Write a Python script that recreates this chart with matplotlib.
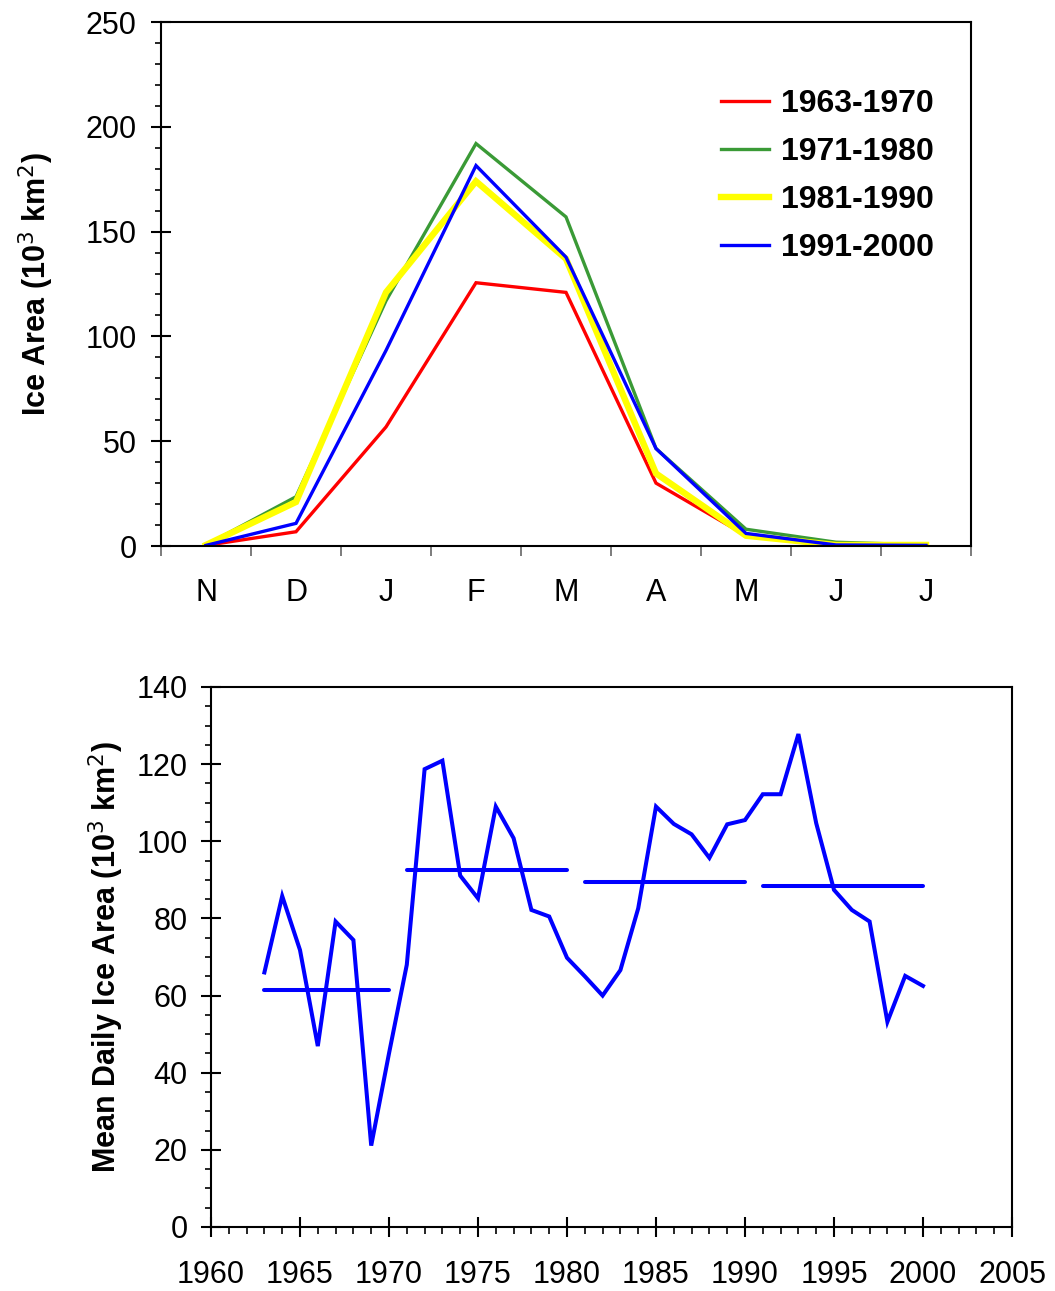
import matplotlib
matplotlib.use("Agg")
import matplotlib.pyplot as plt
from matplotlib.ticker import MultipleLocator, FixedLocator

plt.rcParams['font.family'] = ['Liberation Sans', 'DejaVu Sans']

# ---------------- data ----------------
months = ["N", "D", "J", "F", "M", "A", "M", "J", "J"]
decades = ["1963-1970", "1971-1980", "1981-1990", "1991-2000"]
area_1963_1970 = [0.3, 6.8, 56.8, 125.6, 121.0, 30.0, 5.0, 0.5, 0.3]
area_1971_1980 = [0.5, 23.5, 117.0, 192.0, 157.0, 46.5, 8.0, 1.8, 0.5]
area_1981_1990 = [0.5, 21.0, 121.0, 174.0, 137.0, 34.6, 4.9, 0.5, 0.5]
area_1991_2000 = [0.3, 10.8, 93.3, 181.5, 137.8, 46.5, 6.0, 0.5, 0.3]

years = list(range(1963, 2001))
mean_daily_area = [66.0, 85.8, 71.8, 46.9, 79.2, 74.4, 21.1, 45.0,
                   68.0, 118.7, 120.9, 91.1, 85.2, 109.0, 100.8, 82.2, 80.5, 69.8,
                   65.0, 60.0, 66.6, 82.6, 109.0, 104.5, 101.8, 95.7, 104.4, 105.5,
                   112.2, 112.2, 127.8, 104.7, 87.4, 82.2, 79.2, 53.2, 65.1, 62.5]
decade_start = [1963, 1971, 1981, 1991]
decade_end = [1970, 1980, 1990, 2000]
decade_mean = [61.4, 92.5, 89.4, 88.4]

colors = ["#ff0000", "#3a9a36", "#ffff00", "#0000ff"]
widths = [2.4, 2.4, 4.6, 2.4]

fig = plt.figure(figsize=(10.55, 12.91), dpi=100)

# ---------------- top panel ----------------
ax1 = fig.add_axes([161/1055, 1 - 546/1291, (971-161)/1055, (546-22)/1291])
x = list(range(len(months)))
for vals, lab, c, w in zip([area_1963_1970, area_1971_1980, area_1981_1990, area_1991_2000],
                           decades, colors, widths):
    ax1.plot(x, vals, color=c, lw=w, label=lab, solid_joinstyle='miter')
ax1.set_xlim(-0.5, len(months) - 0.5)
ax1.set_ylim(0, 250)
ax1.set_xticks(x)
ax1.set_xticklabels(months)
ax1.xaxis.set_minor_locator(FixedLocator([i - 0.5 for i in range(len(months) + 1)]))
ax1.tick_params(axis='x', which='major', length=0, pad=23, labelsize=22)
ax1.tick_params(axis='x', which='minor', direction='out', length=7, width=1.2, color='#666666')
ax1.yaxis.set_major_locator(MultipleLocator(50))
ax1.yaxis.set_minor_locator(MultipleLocator(10))
ax1.tick_params(axis='y', which='major', direction='inout', length=15, width=1.5, pad=10, labelsize=22)
ax1.tick_params(axis='y', which='minor', direction='out', length=4, width=1.2)
for s in ax1.spines.values():
    s.set_linewidth(1.5)
ax1.set_ylabel("Ice Area (10$^3$ km$^2$)", fontsize=22, fontweight='bold')
ax1.yaxis.set_label_coords(-0.13, 0.5)
leg = ax1.legend(loc='upper left', bbox_to_anchor=(0.676, 0.897), frameon=False,
                 prop={'size': 23, 'weight': 'bold'}, handlelength=1.5, handletextpad=0.38,
                 labelspacing=0.57, borderaxespad=0)

# ---------------- bottom panel ----------------
ax2 = fig.add_axes([211/1055, 1 - 1227/1291, (1012-211)/1055, (1227-687)/1291])
ax2.plot(years, mean_daily_area, color="#0000ff", lw=2.9, solid_joinstyle='miter')
for s0, s1, m in zip(decade_start, decade_end, decade_mean):
    ax2.plot([s0, s1], [m, m], color="#0000ff", lw=2.9, solid_capstyle='round')
ax2.set_xlim(1960, 2005)
ax2.set_ylim(0, 140)
ax2.xaxis.set_major_locator(MultipleLocator(5))
ax2.xaxis.set_minor_locator(MultipleLocator(1))
ax2.yaxis.set_major_locator(MultipleLocator(20))
ax2.yaxis.set_minor_locator(MultipleLocator(5))
ax2.tick_params(axis='x', which='major', direction='inout', length=14, width=1.5, pad=17, labelsize=22)
ax2.tick_params(axis='x', which='minor', direction='out', length=5, width=1.2)
ax2.tick_params(axis='y', which='major', direction='inout', length=14, width=1.5, pad=10, labelsize=22)
ax2.tick_params(axis='y', which='minor', direction='out', length=4, width=1.2)
for s in ax2.spines.values():
    s.set_linewidth(1.5)
ax2.set_ylabel("Mean Daily Ice Area (10$^3$ km$^2$)", fontsize=22, fontweight='bold')
ax2.yaxis.set_label_coords(-0.106, 0.5)

fig.savefig("out.png", dpi=100)
